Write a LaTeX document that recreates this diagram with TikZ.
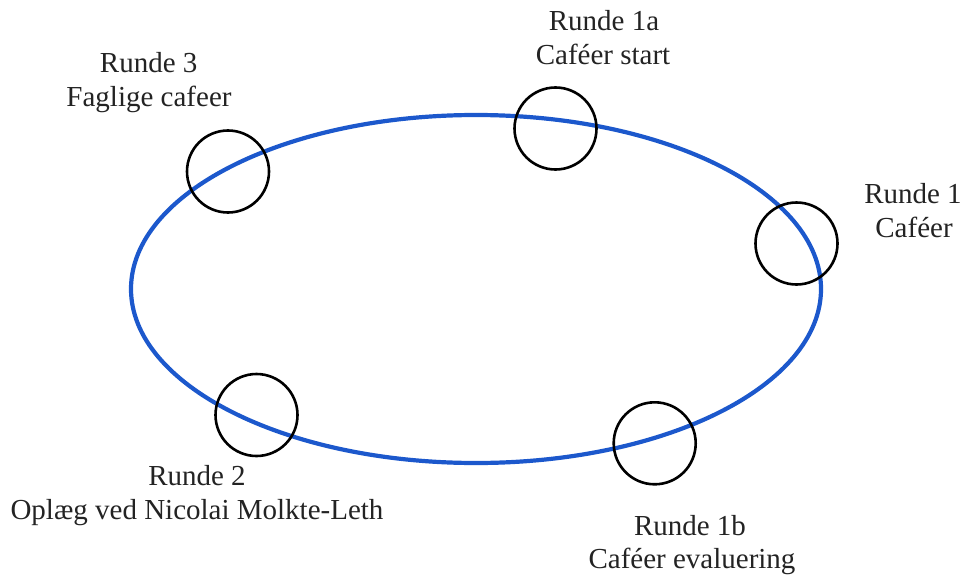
\documentclass[tikz,border=0pt]{standalone}
\usepackage{fontspec}
\setmainfont{Liberation Serif}
\definecolor{ringblue}{RGB}{28,88,204}
\definecolor{labgray}{RGB}{35,35,35}
\begin{document}
\begin{tikzpicture}[x=1pt,y=-1pt,
  station/.style={circle,draw=black,line width=2.6pt,minimum size=82pt,inner sep=0pt},
  lab/.style={anchor=base,inner sep=0pt,text=labgray,font=\fontsize{29}{33}\selectfont}]
\useasboundingbox (0,0) rectangle (966,578);
\draw[ringblue,line width=4.2pt] (476,289) ellipse [x radius=345pt, y radius=174pt];
\node[station] (s1a) at (555.5,128.5) {};
\node[station] (s1) at (796.5,243.5) {};
\node[station] (s1b) at (654.7,443.3) {};
\node[station] (s2) at (256.5,415) {};
\node[station] (s3) at (228,171.5) {};
\node[lab] (t1a) at (604,31) {Runde 1a};
\node[lab] (u1a) at (603,64) {Caféer start};
\node[lab] (t1) at (913,203) {Runde 1};
\node[lab] (u1) at (914,237) {Caféer};
\node[lab] (t1b) at (690,535) {Runde 1b};
\node[lab] (u1b) at (692,568) {Caféer evaluering};
\node[lab] (t2) at (197,485) {Runde 2};
\node[lab] (u2) at (197,519) {Oplæg ved Nicolai Molkte-Leth};
\node[lab] (t3) at (148.7,73) {Runde 3};
\node[lab] (u3) at (149,106) {Faglige cafeer};
\end{tikzpicture}
\end{document}
